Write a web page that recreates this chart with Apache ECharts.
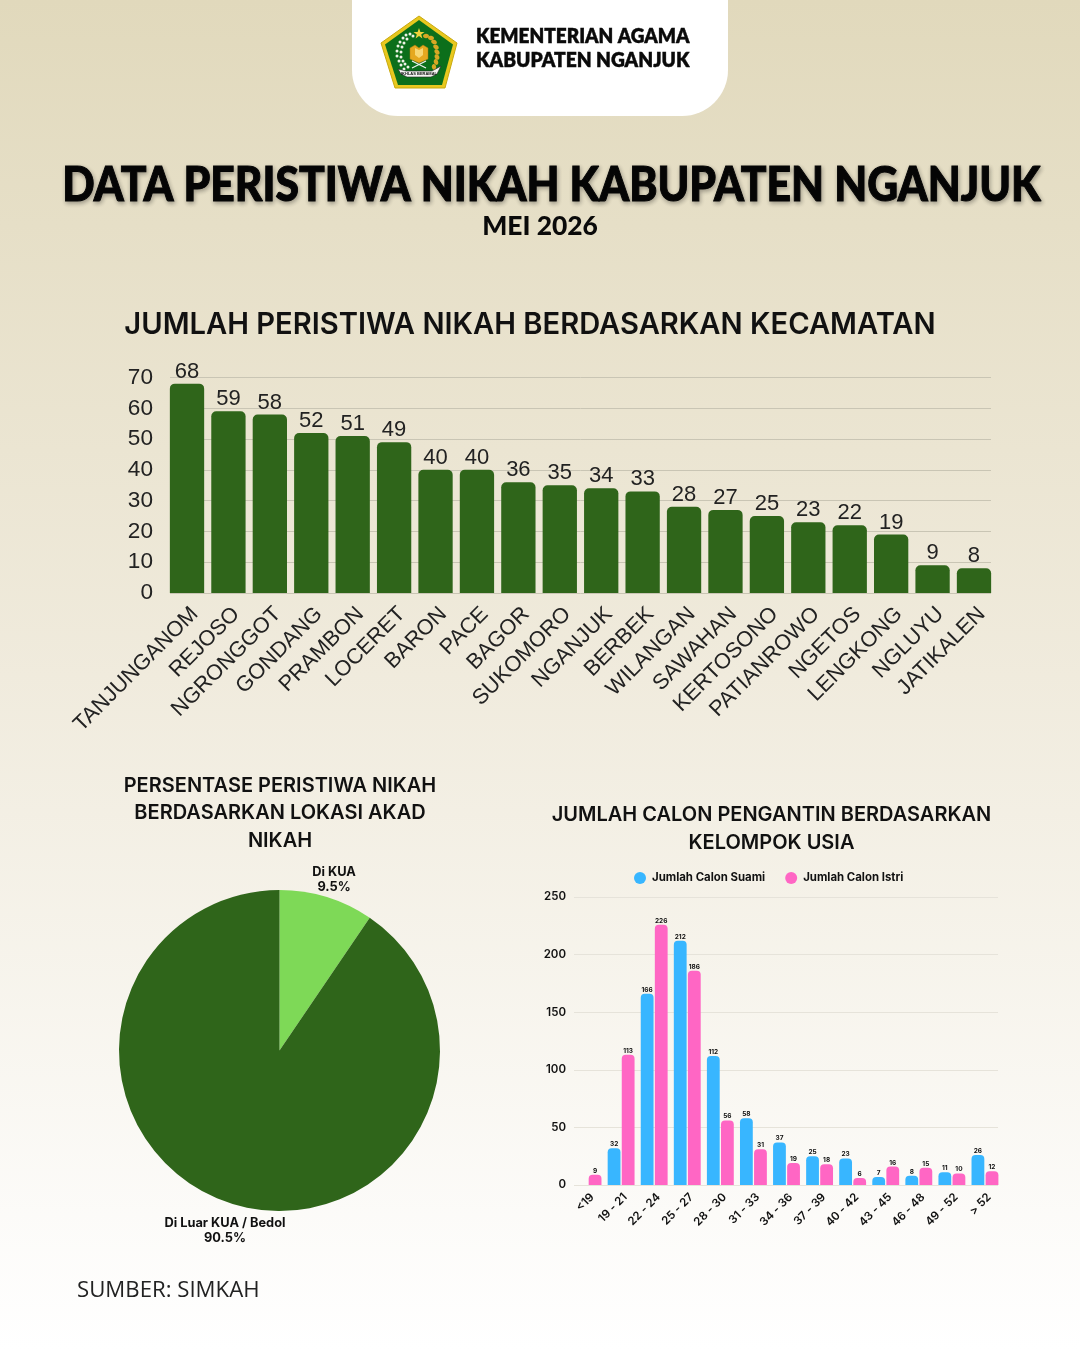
<!DOCTYPE html>
<html><head><meta charset="utf-8">
<style>html,body{margin:0;padding:0;background:#fff}#c{width:1080px;height:1350px}</style>
<script src="https://cdn.jsdelivr.net/npm/echarts@6/dist/echarts.min.js"></script>
</head><body><div id="c"></div>
<script>
const districts = ['TANJUNGANOM','REJOSO','NGRONGGOT','GONDANG','PRAMBON','LOCERET','BARON','PACE','BAGOR','SUKOMORO','NGANJUK','BERBEK','WILANGAN','SAWAHAN','KERTOSONO','PATIANROWO','NGETOS','LENGKONG','NGLUYU','JATIKALEN'];
const districtValues = [68,59,58,52,51,49,40,40,36,35,34,33,28,27,25,23,22,19,9,8];
const ageGroups = ['<19','19 - 21','22 - 24','25 - 27','28 - 30','31 - 33','34 - 36','37 - 39','40 - 42','43 - 45','46 - 48','49 - 52','> 52'];
const grooms = [null,32,166,212,112,58,37,25,23,7,8,11,26];
const brides = [9,113,226,186,56,31,19,18,6,16,15,10,12];
const locationNames = ['Di KUA','Di Luar KUA / Bedol'];
const locationValues = [9.5,90.5];

const INK='#111', GREEN='#2f651a', LIGHT='#7ed957', BLUE='#38b6ff', PINK='#ff66c4';
const HEAD='Inter, "Open Sans", sans-serif';
const chart = echarts.init(document.getElementById('c'),null,{renderer:'canvas'});

// logo decoration
const logo=[];
logo.push({type:'polygon',shape:{points:[[419,16],[457,43],[445,88],[395,88],[381,43]]},style:{fill:'#e8c81e',stroke:'#c9a90f',lineWidth:1}});
logo.push({type:'polygon',shape:{points:[[419,20],[453,44.5],[442,85],[398,85],[385,44.5]]},style:{fill:'#0c6f1b'}});
const wreath=[[410,34],[406,35],[413,36],[403,38],[407,39],[400,42],[404,43],[398,46],[402,47],[397,51],[401,52],[397,56],[401,57],[399,61],[403,61],[401,65],[405,64],[404,69],[408,67]];
wreath.forEach(p=>logo.push({type:'circle',shape:{cx:p[0],cy:p[1],r:1.5},style:{fill:'#eef3e6'}}));
const wheat=[[426,36],[431,38],[434,42],[436,47],[437,52],[437,57],[436,62],[434,67]];
wheat.forEach((p,i)=>logo.push({type:'ellipse',shape:{cx:p[0],cy:p[1],rx:3,ry:2.2},rotation:-i*0.2,originX:p[0],originY:p[1],style:{fill:'#d8a824'}}));
logo.push({type:'polygon',shape:{points:[[419,28],[420.4,32],[424.5,32],[421.2,34.5],[422.4,38.5],[419,36.1],[415.6,38.5],[416.8,34.5],[413.5,32],[417.6,32]]},style:{fill:'#f0d23a'}});
logo.push({type:'polygon',shape:{points:[[410,48],[415,45],[419,48],[423,45],[428,48],[428,59],[419,63],[410,59]]},style:{fill:'#e5a81f',stroke:'#a97a10',lineWidth:.5}});
logo.push({type:'polygon',shape:{points:[[415,48],[419,50],[423,48],[423,55],[419,58],[415,55]]},style:{fill:'#f7d774'}});
logo.push({type:'line',shape:{x1:412,y1:68,x2:426,y2:61},style:{stroke:'#f2f2f2',lineWidth:1.2}});
logo.push({type:'line',shape:{x1:426,y1:68,x2:412,y2:61},style:{stroke:'#f2f2f2',lineWidth:1.2}});
logo.push({type:'polygon',shape:{points:[[398,69],[406,71],[432,71],[441,66],[437,74],[431,77],[407,77],[401,74]]},style:{fill:'#f4f4f0',stroke:'#222',lineWidth:.6}});
logo.push({type:'text',style:{text:'IKHLAS BERAMAL',x:419,y:74,align:'center',verticalAlign:'middle',font:'bold 4px "Liberation Sans"',fill:'#111'}});
logo.forEach(e=>{e.z=3;});

const titleShadow={textShadowColor:'rgba(0,0,0,.3)',textShadowBlur:4,textShadowOffsetX:1,textShadowOffsetY:1.5};

chart.setOption({
  animation:false,
  backgroundColor:new echarts.graphic.LinearGradient(0,0,0,1,[{offset:0,color:'#e1d9bc'},{offset:.5,color:'#f0ebdd'},{offset:1,color:'#ffffff'}]),
  textStyle:{fontFamily:'"Liberation Sans"'},
  graphic:[
    {type:'rect',z:1,shape:{x:352,y:-60,width:376,height:176,r:46},style:{fill:'#fff'}},
    {type:'group',children:logo},
    {type:'text',z:3,x:476,y:37,scaleX:.95,style:{text:'KEMENTERIAN AGAMA',x:0,y:0,verticalAlign:'middle',font:'800 20px Lato',fill:'#0a0a0a',stroke:'#0a0a0a',lineWidth:.4}},
    {type:'text',z:3,x:476,y:61,scaleX:.96,style:{text:'KABUPATEN NGANJUK',x:0,y:0,verticalAlign:'middle',font:'800 20px Lato',fill:'#0a0a0a',stroke:'#0a0a0a',lineWidth:.4}},
    {type:'text',z:3,x:551.5,y:186,scaleX:.908,style:Object.assign({text:'DATA PERISTIWA NIKAH KABUPATEN NGANJUK',x:0,y:0,align:'center',verticalAlign:'middle',font:'900 47px Lato',fill:'#050505',stroke:'#050505',lineWidth:1},titleShadow)}
  ],
  title:[
    {text:'MEI 2026',left:540,top:213,padding:0,textAlign:'center',textStyle:{fontFamily:'Lato',fontWeight:900,fontSize:26.4,color:'#0a0a0a'}},
    {text:'JUMLAH PERISTIWA NIKAH BERDASARKAN KECAMATAN',left:530,top:311,padding:0,textAlign:'center',textStyle:{fontFamily:HEAD,fontWeight:600,fontSize:29.15,color:INK}},
    {text:'PERSENTASE PERISTIWA NIKAH\nBERDASARKAN LOKASI AKAD\nNIKAH',left:280,top:772,padding:0,textAlign:'center',textStyle:{fontFamily:HEAD,fontWeight:600,fontSize:20,lineHeight:27.5,color:INK}},
    {text:'JUMLAH CALON PENGANTIN BERDASARKAN\nKELOMPOK USIA',left:771.5,top:801,padding:0,textAlign:'center',textStyle:{fontFamily:HEAD,fontWeight:600,fontSize:20,lineHeight:28,color:INK}},
    {text:'SUMBER: SIMKAH',left:77,top:1280,padding:0,textStyle:{fontFamily:'Open Sans',fontWeight:400,fontSize:22.2,color:'#222'}}
  ],
  legend:{data:['Jumlah Calon Suami','Jumlah Calon Istri'],left:634,top:872,padding:0,icon:'circle',itemWidth:12,itemHeight:12,itemGap:20,selectedMode:false,textStyle:{fontFamily:HEAD,fontWeight:700,fontSize:11.4,color:INK,padding:[0,0,0,1]}},
  grid:[
    {left:170,right:89,top:377.5,height:215.5},
    {left:166.3,right:85.3,top:377.5,height:215.5},
    {left:574,right:82,top:897,height:288},
    {left:571.5,right:78.5,top:897,height:288}
  ],
  xAxis:[
    {gridIndex:0,type:'value',min:0,max:1,show:false},
    {gridIndex:1,type:'category',data:districts,axisLine:{show:false},axisTick:{show:false},axisLabel:{interval:0,rotate:45,margin:10,verticalAlign:'top',fontSize:21.7,color:'#222',fontFamily:'"Liberation Sans"'}},
    {gridIndex:2,type:'value',min:0,max:1,show:false},
    {gridIndex:3,type:'category',data:ageGroups,axisLine:{show:false},axisTick:{show:false},axisLabel:{interval:0,rotate:45,margin:6,verticalAlign:'top',fontSize:11.5,fontWeight:600,color:INK,fontFamily:HEAD}}
  ],
  yAxis:[
    {gridIndex:0,type:'value',min:0,max:70,interval:10,axisLine:{show:false},axisTick:{show:false},axisLabel:{margin:17,fontSize:22.6,color:'#222',fontFamily:'"Liberation Sans"'},splitLine:{lineStyle:{color:'#c9c5b4',width:1}}},
    {gridIndex:1,type:'value',min:0,max:70,show:false,splitLine:{show:false}},
    {gridIndex:2,type:'value',min:0,max:250,interval:50,axisLine:{show:false},axisTick:{show:false},axisLabel:{margin:8,fontSize:11.5,fontWeight:600,color:INK,fontFamily:HEAD},splitLine:{lineStyle:{color:'#e6e3da',width:1}}},
    {gridIndex:3,type:'value',min:0,max:250,show:false,splitLine:{show:false}}
  ],
  series:[
    {type:'bar',xAxisIndex:1,yAxisIndex:1,data:districtValues,barWidth:34.3,itemStyle:{color:GREEN,borderRadius:[5,5,0,0]},
     label:{show:true,position:'top',distance:1,fontSize:22,color:'#222',fontFamily:'"Liberation Sans"'}},
    {name:'Jumlah Calon Suami',type:'bar',xAxisIndex:3,yAxisIndex:3,data:grooms,barWidth:12.8,barGap:'10%',itemStyle:{color:BLUE,borderRadius:[4,4,0,0]},
     label:{show:true,position:'top',distance:0.5,fontSize:6.5,fontWeight:700,color:INK,fontFamily:HEAD}},
    {name:'Jumlah Calon Istri',type:'bar',xAxisIndex:3,yAxisIndex:3,data:brides,barWidth:12.8,barGap:'10%',itemStyle:{color:PINK,borderRadius:[4,4,0,0]},
     label:{show:true,position:'top',distance:0.5,fontSize:6.5,fontWeight:700,color:INK,fontFamily:HEAD}},
    {type:'pie',center:[279.5,1050.5],radius:[0,160.5],startAngle:90,clockwise:true,
     data:locationNames.map((n,i)=>({name:n,value:locationValues[i],itemStyle:{color:i?GREEN:LIGHT}})),
     label:{show:true,position:'outside',formatter:p=>p.name+'\n'+p.value.toFixed(1)+'%',fontFamily:HEAD,fontWeight:700,fontSize:12.8,lineHeight:15,color:INK},
     labelLine:{show:false,length:8,length2:0},
     labelLayout:p=>p.dataIndex===0?{align:'center',dy:-10}:{align:'center',dy:19}}
  ]
});
</script></body></html>
